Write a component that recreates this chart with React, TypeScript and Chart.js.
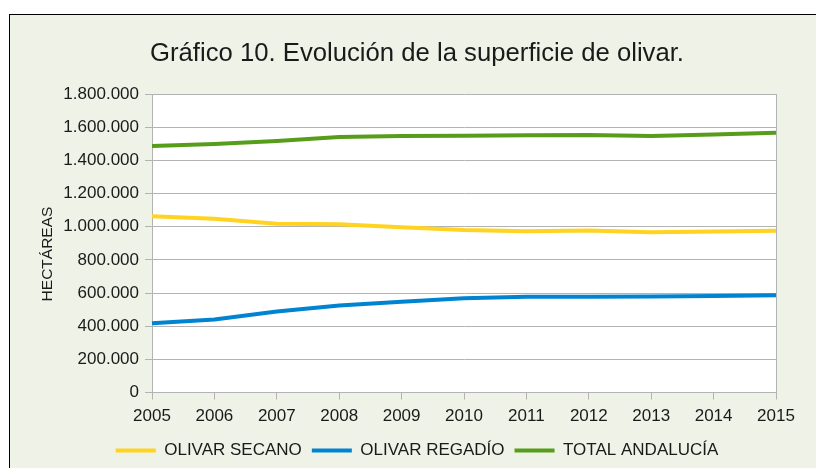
import React, { useEffect, useRef } from "react";
import { Chart, registerables } from "chart.js";

Chart.register(...registerables);

const years = ["2005", "2006", "2007", "2008", "2009", "2010", "2011", "2012", "2013", "2014", "2015"];
const olivarSecano = [1063000, 1048000, 1018000, 1015000, 997000, 980000, 973000, 977000, 966000, 971000, 976000];
const olivarRegadio = [417000, 440000, 489000, 525000, 547000, 568000, 577000, 577000, 579000, 582000, 586000];
const totalAndalucia = [1486000, 1498000, 1516000, 1540000, 1546000, 1548000, 1551000, 1553000, 1546000, 1556000, 1566000];
const yTicks = [0, 200000, 400000, 600000, 800000, 1000000, 1200000, 1400000, 1600000, 1800000];

const titleText = "Gráfico 10. Evolución de la superficie de olivar.";
const yTitle = "HECTÁREAS";

const FONT = "'Liberation Sans', Arial, sans-serif";
const TEXT = "#1a1a1a";
const GRID = "#b3b3b3";

const fmt = (v: number) => String(v).replace(/\B(?=(\d{3})+(?!\d))/g, ".");

const plotBg = {
  id: "plotBg",
  beforeDraw(chart: any) {
    const { ctx, chartArea } = chart;
    ctx.save();
    ctx.fillStyle = "#ffffff";
    ctx.fillRect(chartArea.left, chartArea.top, chartArea.right - chartArea.left, chartArea.bottom - chartArea.top);
    ctx.restore();
  },
};

export default function App() {
  const ref = useRef<HTMLCanvasElement | null>(null);
  useEffect(() => {
    if (!ref.current) return;
    const chart = new Chart(ref.current, {
      type: "line",
      data: {
        labels: years,
        datasets: [
          { label: "OLIVAR SECANO", data: olivarSecano, borderColor: "#ffd320", backgroundColor: "#ffd320" },
          { label: "OLIVAR REGADÍO", data: olivarRegadio, borderColor: "#0084d1", backgroundColor: "#0084d1" },
          { label: "TOTAL ANDALUCÍA", data: totalAndalucia, borderColor: "#579d1c", backgroundColor: "#579d1c" },
        ],
      },
      options: {
        animation: false,
        responsive: false,
        devicePixelRatio: 1,
        layout: { padding: { left: 48, right: 40, top: 0, bottom: 0 } },
        elements: {
          line: { borderWidth: 4, tension: 0 },
          point: { radius: 0, hoverRadius: 0 },
        },
        plugins: {
          title: {
            display: true,
            text: titleText,
            color: TEXT,
            font: { family: FONT, size: 25.7, weight: "normal" },
            padding: { top: 23, bottom: 25.16 },
          },
          legend: {
            position: "bottom",
            labels: {
              color: TEXT,
              font: { family: FONT, size: 17 },
              boxWidth: 40,
              boxHeight: 4,
              padding: 10,
              generateLabels: (c: any) =>
                Chart.defaults.plugins.legend.labels.generateLabels(c).map((l: any) => ({
                  ...l,
                  lineWidth: 0,
                  fillStyle: l.strokeStyle,
                })),
            },
          },
          tooltip: { enabled: false },
        },
        scales: {
          x: {
            type: "category",
            offset: false,
            afterFit: (s: any) => {
              s.height = 39.5;
            },
            grid: {
              color: (ctx: any) => (ctx.index === years.length - 1 ? GRID : "rgba(0,0,0,0)"),
              tickColor: GRID,
              tickLength: 7,
              drawOnChartArea: true,
            },
            border: { color: GRID, width: 1 },
            ticks: {
              color: TEXT,
              font: { family: FONT, size: 17 },
              padding: 7,
              maxRotation: 0,
              autoSkip: false,
            },
          },
          y: {
            min: 0,
            max: 1800000,
            afterFit: (s: any) => {
              s.width = 94;
            },
            afterBuildTicks: (s: any) => {
              s.ticks = yTicks.map((v) => ({ value: v }));
            },
            grid: { color: GRID, tickColor: GRID, tickLength: 7 },
            border: { color: GRID, width: 1 },
            ticks: {
              color: TEXT,
              font: { family: FONT, size: 17 },
              padding: 6,
              callback: (v: any) => fmt(Number(v)),
            },
            title: {
              display: true,
              text: yTitle + "     ",
              color: TEXT,
              font: { family: FONT, size: 15.5 },
              padding: { top: -20, bottom: 0 },
            },
          },
        },
      },
      plugins: [plotBg],
    } as any);
    return () => chart.destroy();
  }, []);

  return (
    <div
      style={{
        position: "fixed",
        left: 9,
        top: 14,
        width: 806,
        height: 454,
        border: "1px solid #000",
        background: "#eef2e7",
      }}
    >
      <canvas ref={ref} width={806} height={454} style={{ display: "block", width: 806, height: 454 }} />
    </div>
  );
}
